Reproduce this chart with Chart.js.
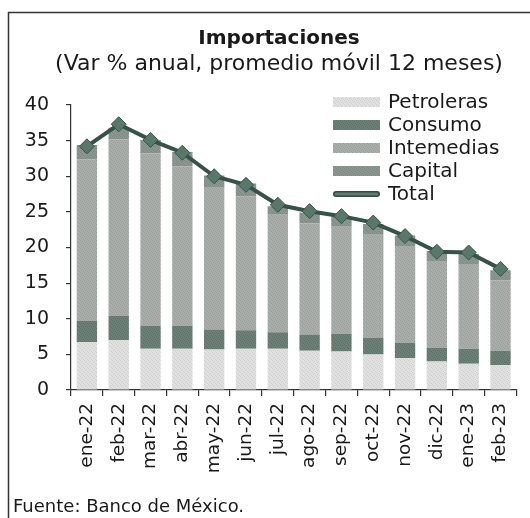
<!DOCTYPE html>
<html>
<head>
<meta charset="utf-8">
<script src="https://cdn.jsdelivr.net/npm/chart.js@4/dist/chart.umd.min.js"></script>
<style>
html,body{margin:0;padding:0;background:#fff;}
#wrap{width:530px;height:518px;position:relative;}
</style>
</head>
<body>
<div id="wrap"><canvas id="c" width="530" height="518"></canvas></div>
<script>
const categories = ['ene-22','feb-22','mar-22','abr-22','may-22','jun-22','jul-22','ago-22','sep-22','oct-22','nov-22','dic-22','ene-23','feb-23'];
const petroleras  = [6.7, 7.0, 5.8, 5.8, 5.7, 5.8, 5.8, 5.5, 5.4, 5.0, 4.5, 4.0, 3.7, 3.5];
const consumo     = [3.0, 3.4, 3.2, 3.2, 2.8, 2.6, 2.3, 2.3, 2.5, 2.3, 2.1, 1.9, 2.1, 2.0];
const intermedias = [22.7, 24.8, 24.2, 22.4, 19.9, 18.8, 16.5, 15.6, 15.0, 14.6, 13.6, 12.2, 11.9, 9.9];
const capital     = [2.0, 1.6, 1.9, 2.0, 1.7, 1.8, 1.2, 1.5, 1.4, 1.4, 1.5, 1.4, 1.4, 1.4];
const total       = [34.2, 37.3, 35.1, 33.3, 30.0, 28.8, 26.0, 25.1, 24.4, 23.5, 21.6, 19.4, 19.3, 17.0];
const yTicks = [0, 5, 10, 15, 20, 25, 30, 35, 40];

const FONT = 'DejaVu Sans';

function texture(c1, c2) {
  const cv = document.createElement('canvas');
  cv.width = 4; cv.height = 4;
  const g = cv.getContext('2d');
  g.fillStyle = c1; g.fillRect(0, 0, 4, 4);
  g.fillStyle = c2;
  [[0,0],[2,1],[1,2],[3,3]].forEach(p => g.fillRect(p[0], p[1], 1, 1));
  return g.createPattern(cv, 'repeat');
}

const colPet = texture('#e0e1e0', '#cdd0ce');
const colCon = texture('#6c8077', '#5c7066');
const colInt = texture('#a9aeab', '#989e9a');
const colCap = texture('#8c9690', '#7d8882');

const frameAndText = {
  id: 'frameAndText',
  beforeDraw(chart) {
    const ctx = chart.ctx;
    ctx.save();
    ctx.fillStyle = '#fff';
    ctx.fillRect(0, 0, chart.width, chart.height);
    ctx.strokeStyle = '#333';
    ctx.lineWidth = 1.5;
    ctx.beginPath();
    ctx.moveTo(8, 12.5); ctx.lineTo(530, 12.5);
    ctx.moveTo(8.5, 12); ctx.lineTo(8.5, 518);
    ctx.stroke();
    ctx.fillStyle = '#1a1a1a';
    ctx.textAlign = 'center';
    ctx.textBaseline = 'middle';
    ctx.font = 'bold 20px "' + FONT + '"';
    ctx.fillText('Importaciones', 279, 39);
    ctx.font = '22px "' + FONT + '"';
    ctx.fillText('(Var % anual, promedio móvil 12 meses)', 279, 64);
    ctx.textAlign = 'left';
    ctx.font = '18px "' + FONT + '"';
    ctx.fillText('Fuente: Banco de México.', 13, 507);
    ctx.restore();
  },
  afterDraw(chart) {
    const ctx = chart.ctx;
    ctx.save();
    const x0 = 333, bw = 47, bh = 10, tx = 388;
    let y = 102;
    ctx.font = '20px "' + FONT + '"';
    ctx.textBaseline = 'middle';
    ctx.textAlign = 'left';
    chart.data.datasets.forEach(ds => {
      if (ds.type === 'line') {
        ctx.strokeStyle = '#2f4a40';
        ctx.lineWidth = 6;
        ctx.lineCap = 'round';
        ctx.beginPath(); ctx.moveTo(x0 + 3, y); ctx.lineTo(x0 + bw - 3, y); ctx.stroke();
        ctx.strokeStyle = '#5d7d70';
        ctx.lineWidth = 3;
        ctx.beginPath(); ctx.moveTo(x0 + 3, y); ctx.lineTo(x0 + bw - 3, y); ctx.stroke();
      } else {
        ctx.fillStyle = ds.backgroundColor;
        ctx.fillRect(x0, y - bh / 2, bw, bh);
      }
      ctx.fillStyle = '#1a1a1a';
      ctx.fillText(ds.label, tx, y + 1);
      y += 23;
    });
    ctx.restore();
  }
};

new Chart(document.getElementById('c'), {
  data: {
    labels: categories,
    datasets: [
      { type: 'bar', label: 'Petroleras', data: petroleras, backgroundColor: colPet, stack: 's', order: 2 },
      { type: 'bar', label: 'Consumo', data: consumo, backgroundColor: colCon, stack: 's', order: 2 },
      { type: 'bar', label: 'Intemedias', data: intermedias, backgroundColor: colInt, stack: 's', order: 2 },
      { type: 'bar', label: 'Capital', data: capital, backgroundColor: colCap, stack: 's', order: 2 },
      { type: 'line', label: 'Total', data: total, stack: 't', order: 1,
        borderColor: '#36534a', borderWidth: 4, tension: 0,
        pointStyle: 'rectRot', pointRadius: 7.5, pointHoverRadius: 7.5,
        pointBackgroundColor: '#587869', pointBorderColor: '#36534a', pointBorderWidth: 1 }
    ]
  },
  options: {
    responsive: false,
    animation: false,
    events: [],
    layout: { padding: { left: 0, right: 8, top: 105, bottom: 0 } },
    datasets: { bar: { barPercentage: 0.64, categoryPercentage: 1 } },
    plugins: { legend: { display: false }, title: { display: false }, tooltip: { enabled: false } },
    scales: {
      x: {
        stacked: true,
        offset: true,
        afterFit(s) { s.height = 128; },
        grid: { display: true, drawOnChartArea: false, drawTicks: true, tickLength: 6, offset: true, color: '#333', lineWidth: 1.2 },
        border: { display: true, color: '#333', width: 1.2 },
        ticks: { maxRotation: 90, minRotation: 90, autoSkip: false, color: '#1a1a1a', padding: 7,
                 font: { family: FONT, size: 18.5 } }
      },
      y: {
        stacked: true,
        min: 0, max: 40,
        afterFit(s) { s.width = 71; },
        afterBuildTicks(s) { s.ticks = yTicks.map(v => ({ value: v })); },
        grid: { display: true, drawOnChartArea: false, drawTicks: true, tickLength: 5, color: '#333', lineWidth: 1.2 },
        border: { display: true, color: '#333', width: 1.2 },
        ticks: { color: '#1a1a1a', padding: 17, font: { family: FONT, size: 19 } }
      }
    }
  },
  plugins: [frameAndText]
});
</script>
</body>
</html>
